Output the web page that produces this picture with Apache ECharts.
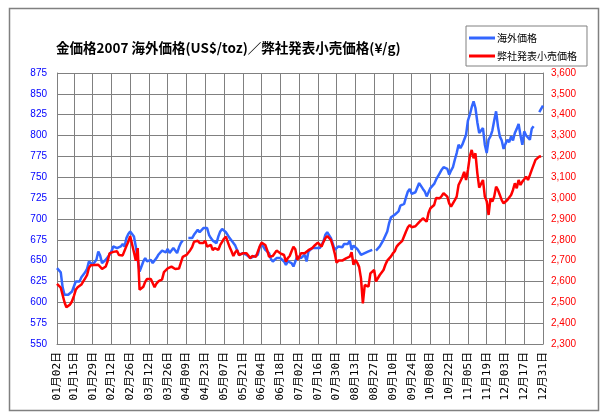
<!DOCTYPE html>
<html><head><meta charset="utf-8">
<script src="https://cdn.jsdelivr.net/npm/echarts@6/dist/echarts.min.js"></script>
<style>html,body{margin:0;padding:0;background:#fff}#c{width:610px;height:420px}</style>
</head><body><div id="c"></div>
<script>
// Tick labels shown on the category axis
const tickLabels = ["01月02日","01月15日","01月29日","02月12日","02月26日","03月12日","03月26日","04月09日","04月23日","05月07日","05月21日","06月04日","06月18日","07月02日","07月16日","07月30日","08月13日","08月27日","09月10日","09月24日","10月08日","10月22日","11月05日","11月19日","12月03日","12月17日","12月31日"];

// Categories: business days (Mon-Fri) of 2007 from Jan 2 to Dec 31
const categories = [];
for (let d = new Date(2007,0,2); d <= new Date(2007,11,31); d.setDate(d.getDate()+1)) {
  const wd = d.getDay();
  if (wd === 0 || wd === 6) continue;
  const m = String(d.getMonth()+1).padStart(2,'0'), dd = String(d.getDate()).padStart(2,'0');
  categories.push(m + '月' + dd + '日');
}

// 海外価格 (US$/toz), one value per business day, null = no price
const usdJan = [641,640,636,618,609,609,609,610,613,619,625,627,625,630,633,636,640,649,647,645,646,651];
const usdFeb = [661,656,647,649,651,653,657,661,667,669,665,666,667,670,667,677,682,685,684,679];
const usdMar = [667,651,637,643,649,653,649,650,651,647,650,653,657,659,662,661,660,664,659,662,665,662];
const usdApr = [659,666,671,674,null,null,677,677,677,681,684,687,684,683,689,691,689,681,677,674,672];
const usdMay = [671,679,685,688,686,684,682,677,674,671,668,667,657,655,659,658,657,659,653,654,655,653,657];
const usdJun = [666,670,668,663,661,659,652,649,650,653,653,653,651,649,645,649,651,647,643,649,655];
const usdJul = [655,653,655,657,649,661,663,665,665,665,665,665,669,673,681,684,685,677,670,663,664,667];
const usdAug = [668,666,670,672,670,674,663,668,667,664,662,657,658,659,660,661,662,663,null,662,664,667,671];
const usdSep = [675,677,685,695,702,704,705,706,709,716,716,718,726,733,736,730,729,732,734,743];
const usdOct = [742,736,733,727,732,737,738,742,747,751,755,759,762,763,760,753,758,762,771,779,789,785,789];
const usdNov = [795,801,818,825,834,841,833,816,803,806,809,789,779,795,799,806,818,829,811,799,794,784];
const usdDec = [790,795,792,799,794,803,808,814,800,789,805,800,798,795,808,811,null,null,828,832,836];

// 弊社発表小売価格 (¥/g)
const jpyJan = [2588,2592,2570,2535,2500,2476,2480,2490,2505,2530,2560,2572,2568,2585,2600,2615,2630,2665,2678,2680,2679,2683];
const jpyFeb = [2680,2672,2660,2655,2672,2698,2735,2738,2742,2751,2745,2727,2730,2725,2730,2770,2790,2818,2815,2740];
const jpyMar = [2700,2760,2560,2555,2575,2598,2612,2620,2612,2605,2572,2590,2600,2607,2610,2645,2650,2663,2668,2671,2663,2660];
const jpyApr = [2655,2662,2655,2718,2722,2727,2733,2750,2765,2790,2790,2795,2785,2783,2785,2795,2767,2770,2775,2750,2760];
const jpyMay = [2765,2752,2775,2790,2805,2815,2790,2765,2745,2722,2740,2750,2727,2733,2735,2732,2735,2738,2712,2722,2728,2718,2722];
const jpyJun = [2767,2786,2780,2775,2750,2719,2712,2722,2730,2748,2745,2735,2735,2727,2695,2712,2722,2745,2767,2755,2705];
const jpyJul = [2715,2735,2738,2735,2727,2750,2752,2760,2770,2778,2786,2780,2767,2790,2807,2818,2812,2799,2770,2735,2690,2700];
const jpyAug = [2703,2700,2705,2711,2715,2719,2740,2680,2703,2690,2670,2615,2495,2583,2578,2575,2639,2645,2655,2600,2600,2631,2628];
const jpySep = [2655,2680,2700,2705,2720,2735,2745,2767,2778,2785,2795,2799,2840,2860,2871,2860,2855,2865,2871,2885];
const jpyOct = [2890,2903,2895,2887,2930,2951,2960,2967,3000,3007,2999,3010,3023,3015,3007,2975,2959,2967,2990,3007,3063,3055,3100];
const jpyNov = [3126,3087,3135,3200,3231,3191,3215,3120,3050,3055,3087,3007,2985,2919,2999,2983,3007,3055,3039,3015,2990,2975];
const jpyDec = [2975,2991,3000,3015,3039,3071,3047,3087,3063,3079,3090,3103,3087,3110,3135,3138,3183,3175,3199,3200,null];

const usd = [].concat(usdJan,usdFeb,usdMar,usdApr,usdMay,usdJun,usdJul,usdAug,usdSep,usdOct,usdNov,usdDec);
const jpy = [].concat(jpyJan,jpyFeb,jpyMar,jpyApr,jpyMay,jpyJun,jpyJul,jpyAug,jpySep,jpyOct,jpyNov,jpyDec);

const showTick = (i, v) => tickLabels.indexOf(v !== undefined ? v : categories[i]) >= 0;
const JP = '"Noto Sans CJK JP", sans-serif';

const chart = echarts.init(document.getElementById('c'), null, {renderer: 'canvas'});
chart.setOption({
  animation: false,
  backgroundColor: '#fff',
  title: {
    text: '金価格2007 海外価格(US$/toz)／弊社発表小売価格(¥/g)',
    left: 51, top: 36,
    textStyle: {fontFamily: JP, fontSize: 13.5, fontWeight: 'bold', color: '#000'}
  },
  legend: {
    orient: 'vertical', left: 466, top: 26,
    padding: [5, 10, 3, 3], itemGap: 4, itemWidth: 26, itemHeight: 3,
    borderColor: '#808080', borderWidth: 1,
    icon: 'rect',
    textStyle: {fontFamily: JP, fontSize: 10, color: '#000', lineHeight: 14, padding: [0,0,0,-3]},
    data: ['海外価格', '弊社発表小売価格']
  },
  grid: {left: 57, right: 67, top: 73, bottom: 76},
  xAxis: {
    type: 'category', data: categories, boundaryGap: false,
    axisLine: {lineStyle: {color: '#808080', width: 1}},
    axisTick: {show: false},
    axisLabel: {interval: showTick, rotate: 90, fontFamily: '"DejaVu Sans Mono", "Noto Sans CJK JP", monospace', fontSize: 11, color: '#000', margin: 8},
    splitLine: {show: true, interval: showTick, lineStyle: {color: '#808080', width: 1}}
  },
  yAxis: [
    {type: 'value', min: 550, max: 875, interval: 25,
     axisLine: {show: true, lineStyle: {color: '#808080'}}, axisTick: {show: false},
     axisLabel: {color: '#0000ff', fontSize: 10, fontFamily: 'Liberation Sans, Arial', margin: 10},
     splitLine: {lineStyle: {color: '#808080', width: 1}}},
    {type: 'value', min: 2300, max: 3600, interval: 100, position: 'right',
     axisLine: {show: true, lineStyle: {color: '#808080'}}, axisTick: {show: false},
     axisLabel: {color: '#ff0000', fontSize: 10, fontFamily: 'Liberation Sans, Arial', margin: 8,
       formatter: v => v.toLocaleString('en-US')},
     splitLine: {show: false}}
  ],
  series: [
    {name: '海外価格', type: 'line', data: usd, yAxisIndex: 0, showSymbol: false, connectNulls: false,
     color: '#3366ff', lineStyle: {color: '#3366ff', width: 2.5}, z: 2},
    {name: '弊社発表小売価格', type: 'line', data: jpy, yAxisIndex: 1, showSymbol: false, connectNulls: false,
     color: '#ff0000', lineStyle: {color: '#ff0000', width: 2.5}, z: 3}
  ],
  graphic: [
    {type: 'rect', shape: {x: 9.5, y: 8.5, width: 589, height: 402}, style: {fill: null, stroke: '#808080', lineWidth: 1.5}, silent: true, z: -1}
  ]
});
</script></body></html>
